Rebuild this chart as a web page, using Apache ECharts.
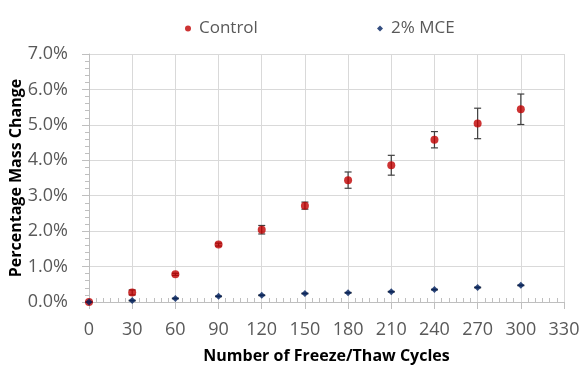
<!DOCTYPE html>
<html><head><meta charset="utf-8">
<script src="https://cdn.jsdelivr.net/npm/echarts@6/dist/echarts.min.js"></script>
<style>html,body{margin:0;padding:0;background:#fff}#c{width:583px;height:371px}</style>
</head><body><div id="c"></div>
<script>
const cycles = [0, 30, 60, 90, 120, 150, 180, 210, 240, 270, 300];
const controlVals = [0, 0.27, 0.78, 1.62, 2.04, 2.72, 3.44, 3.86, 4.58, 5.04, 5.44];
const controlErr = [0, 0.07, 0.03, 0.04, 0.12, 0.10, 0.23, 0.28, 0.23, 0.43, 0.43];
const mceVals = [0, 0.04, 0.10, 0.16, 0.19, 0.24, 0.26, 0.29, 0.35, 0.41, 0.47];
const mceErr = [0, 0.01, 0.01, 0.01, 0.01, 0.01, 0.01, 0.01, 0.01, 0.01, 0.01];
const seriesNames = ['Control', '2% MCE'];

const FONT = 'Open Sans';
const txt = '#595959';
const grid = '#d9d9d9';
const red = '#c00000';
const navy = '#002060';

function errData(vals, errs) {
  return cycles.map((c, i) => [c, vals[i] - errs[i], vals[i] + errs[i]]);
}
function errRender(params, api) {
  const x = api.value(0);
  const lo = api.coord([x, api.value(1)]);
  const hi = api.coord([x, api.value(2)]);
  const w = 3.5;
  const style = {stroke: '#404040', lineWidth: 1.2};
  return {type: 'group', children: [
    {type: 'line', shape: {x1: lo[0], y1: lo[1], x2: hi[0], y2: hi[1]}, style},
    {type: 'line', shape: {x1: lo[0]-w, y1: lo[1], x2: lo[0]+w, y2: lo[1]}, style},
    {type: 'line', shape: {x1: hi[0]-w, y1: hi[1], x2: hi[0]+w, y2: hi[1]}, style}
  ]};
}

const chart = echarts.init(document.getElementById('c'));
chart.setOption({
  animation: false,
  textStyle: {fontFamily: FONT},
  grid: {left: 89, right: 19, top: 54, bottom: 69, containLabel: false, outerBoundsMode: 'none'},
  legend: [
    {data: [{name: seriesNames[0], icon: 'circle', itemStyle: {color: red}}], left: 180, top: 15,
     itemWidth: 6, itemHeight: 6, itemGap: 8,
     textStyle: {color: txt, fontSize: 17, fontFamily: FONT, padding: [0, 0, 0, 3]}},
    {data: [{name: seriesNames[1], icon: 'diamond', itemStyle: {color: navy}}], left: 372, top: 15,
     itemWidth: 6, itemHeight: 6, itemGap: 8,
     textStyle: {color: txt, fontSize: 17, fontFamily: FONT, padding: [0, 0, 0, 3]}}
  ],
  xAxis: [{
    type: 'value', min: 0, max: 330, interval: 30,
    name: 'Number of Freeze/Thaw Cycles', nameLocation: 'middle', nameGap: 46, nameMoveOverlap: false,
    nameTextStyle: {color: '#000', fontWeight: 'bold', fontSize: 16, fontFamily: FONT},
    axisLine: {show: true, onZero: false, lineStyle: {color: '#bfbfbf'}},
    axisTick: {show: true, length: 7, lineStyle: {color: '#bfbfbf'}},
    axisLabel: {color: txt, fontSize: 18, margin: 19, fontFamily: FONT},
    splitLine: {show: true, lineStyle: {color: grid}}
  }, {
    type: 'value', min: 0, max: 330, interval: 30, position: 'bottom',
    axisLine: {show: false}, axisLabel: {show: false}, splitLine: {show: false},
    axisTick: {show: false, inside: true},
    minorTick: {show: true, splitNumber: 6, length: 4, lineStyle: {color: '#bfbfbf'}}
  }],
  yAxis: {
    type: 'value', min: 0, max: 7, interval: 1,
    name: 'Percentage Mass Change', nameLocation: 'middle', nameGap: 65, nameMoveOverlap: false,
    nameTextStyle: {color: '#000', fontWeight: 'bold', fontSize: 16, fontFamily: FONT},
    axisLine: {show: true, lineStyle: {color: '#bfbfbf'}},
    axisTick: {show: true, length: 7, lineStyle: {color: '#bfbfbf'}},
    minorTick: {show: true, splitNumber: 5, length: 4, lineStyle: {color: '#bfbfbf'}},
    axisLabel: {color: txt, fontSize: 18, margin: 21, fontFamily: FONT,
      formatter: v => v.toFixed(1) + '%'},
    splitLine: {show: true, lineStyle: {color: grid}}
  },
  series: [
    {name: 'Control error', type: 'custom', renderItem: errRender, data: errData(controlVals, controlErr), z: 2, silent: true},
    {name: 'MCE error', type: 'custom', renderItem: errRender, data: errData(mceVals, mceErr), z: 2, silent: true},
    {name: seriesNames[0], type: 'scatter', symbol: 'circle', symbolSize: 8,
     itemStyle: {color: red}, data: cycles.map((c, i) => [c, controlVals[i]]), z: 3},
    {name: seriesNames[1], type: 'scatter', symbol: 'diamond', symbolSize: 7,
     itemStyle: {color: navy}, data: cycles.map((c, i) => [c, mceVals[i]]), z: 4}
  ]
});
</script></body></html>
